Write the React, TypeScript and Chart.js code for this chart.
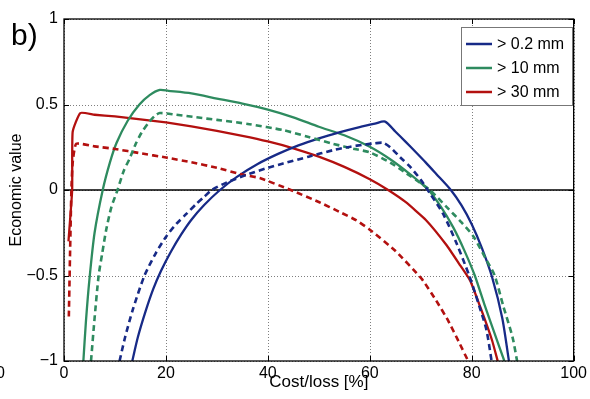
import React, { useEffect, useRef } from 'react';
import { Chart, registerables } from 'chart.js';
Chart.register(...registerables);

const xTicks = [0, 20, 40, 60, 80, 100];
const yTicks = [-1, -0.5, 0, 0.5, 1];
const yTickLabels = ['\u22121', '\u22120.5', '0', '0.5', '1'];
const legendLabels = ['> 0.2 mm', '> 10 mm', '> 30 mm'];
const seriesColors = ['#172a87', '#2e8b5f', '#b3100f'];

// > 0.2 mm
const blueSolidX = [13.4, 14.5, 16, 17.5, 19, 21, 23, 25, 27.5, 30.6, 34, 38, 42, 46, 50, 54, 58, 61, 63, 65, 67, 69, 71, 73, 75.9, 78, 80, 82, 84, 86, 87.3];
const blueSolidY = [-1, -0.86, -0.71, -0.58, -0.475, -0.36, -0.26, -0.174, -0.088, 0, 0.078, 0.152, 0.211, 0.261, 0.302, 0.337, 0.368, 0.388, 0.4, 0.342, 0.283, 0.222, 0.16, 0.095, 0, -0.09, -0.2, -0.34, -0.51, -0.75, -1];
const blueDashX = [10.9, 12, 13.5, 15.8, 18, 20.1, 22, 24, 26, 27.5, 29, 32, 36.4, 40, 43, 48, 52.8, 56, 59, 61, 62.6, 64, 66, 67.9, 70, 71.8, 74.4, 77, 79.5, 81.5, 82.9, 83.9];
const blueDashY = [-1, -0.86, -0.7, -0.5, -0.37, -0.27, -0.2, -0.14, -0.08, -0.04, 0, 0.045, 0.095, 0.13, 0.155, 0.195, 0.233, 0.252, 0.266, 0.273, 0.276, 0.25, 0.19, 0.136, 0.06, -0.02, -0.14, -0.31, -0.5, -0.68, -0.82, -1];

// > 10 mm
const greenSolidX = [3.8, 4.3, 5.0, 6.0, 7.6, 9.0, 10.3, 12.5, 14.8, 16.8, 18.8, 20.5, 25, 30, 35, 40, 45, 50, 55, 60, 64, 68, 71.5, 74, 76.4, 78.5, 80.6, 82.5, 84.5, 86.4];
const greenSolidY = [-1, -0.77, -0.52, -0.25, 0, 0.16, 0.275, 0.405, 0.5, 0.555, 0.585, 0.58, 0.565, 0.535, 0.505, 0.47, 0.425, 0.37, 0.32, 0.253, 0.18, 0.09, 0, -0.1, -0.22, -0.35, -0.5, -0.67, -0.84, -1];
const greenDashX = [5.3, 6.0, 6.8, 7.5, 8.3, 9.3, 10.5, 11.7, 12.9, 14, 15.2, 16.5, 17.8, 18.8, 22, 26, 30, 36.4, 43, 48, 52.8, 57, 60, 64, 67.2, 69.5, 71.8, 75.1, 78, 80.3, 82.9, 84.5, 86.2, 88, 88.9];
const greenDashY = [-1, -0.75, -0.5, -0.37, -0.23, -0.1, 0, 0.11, 0.185, 0.265, 0.335, 0.39, 0.433, 0.45, 0.44, 0.425, 0.41, 0.385, 0.35, 0.31, 0.27, 0.24, 0.22, 0.16, 0.097, 0.05, 0, -0.1, -0.19, -0.27, -0.41, -0.5, -0.68, -0.86, -1];

// > 30 mm
const redSolidX = [0.88, 1.6, 1.7, 3.2, 6, 10, 15, 20, 25, 30, 35, 40, 45, 50, 55, 60, 63.6, 67, 71, 75, 77.5, 79.7, 82, 84, 85.1];
const redSolidY = [-0.3, 0, 0.34, 0.45, 0.44, 0.43, 0.413, 0.395, 0.372, 0.346, 0.317, 0.284, 0.244, 0.195, 0.135, 0.063, 0, -0.07, -0.175, -0.32, -0.43, -0.53, -0.71, -0.88, -1];
const redDashX = [0.95, 1.2, 1.45, 1.7, 2.4, 6, 10, 15, 20, 25, 30, 35, 38.4, 44.5, 50, 54, 57.4, 60, 65, 70.2, 73, 75.4, 77.5, 79.3];
const redDashY = [-0.74, -0.35, 0, 0.16, 0.27, 0.255, 0.24, 0.215, 0.19, 0.162, 0.13, 0.09, 0.07, 0, -0.07, -0.127, -0.178, -0.232, -0.355, -0.52, -0.645, -0.765, -0.89, -1];

const FONT = "'Liberation Sans', Arial, Helvetica, sans-serif";

function pts(xs: number[], ys: number[]) {
  return xs.map((x, i) => ({ x, y: ys[i] }));
}

const decorPlugin = {
  id: 'decor',
  beforeDatasetsDraw(chart: any) {
    const { ctx, chartArea: a, scales } = chart;
    ctx.save();
    // dotted grid
    ctx.strokeStyle = 'rgba(0,0,0,0.5)';
    ctx.lineWidth = 1;
    ctx.setLineDash([1, 2]);
    ctx.beginPath();
    xTicks.forEach((v) => {
      const px = Math.round(scales.x.getPixelForValue(v)) + 0.5;
      ctx.moveTo(px, a.top);
      ctx.lineTo(px, a.bottom);
    });
    yTicks.forEach((v) => {
      const py = Math.round(scales.y.getPixelForValue(v)) + 0.5;
      ctx.moveTo(a.left, py);
      ctx.lineTo(a.right, py);
    });
    ctx.stroke();
    ctx.setLineDash([]);
    // zero line
    const y0 = scales.y.getPixelForValue(0);
    ctx.strokeStyle = '#000';
    ctx.lineWidth = 1.3;
    ctx.beginPath();
    ctx.moveTo(a.left, y0);
    ctx.lineTo(a.right, y0);
    ctx.stroke();
    ctx.restore();
  },
  afterDatasetsDraw(chart: any) {
    const { ctx, chartArea: a, scales } = chart;
    ctx.save();
    ctx.strokeStyle = '#000';
    ctx.lineWidth = 1.3;
    ctx.strokeRect(a.left, a.top, a.right - a.left, a.bottom - a.top);
    const tl = 5;
    ctx.lineWidth = 1;
    ctx.beginPath();
    xTicks.forEach((v) => {
      const px = Math.round(scales.x.getPixelForValue(v)) + 0.5;
      ctx.moveTo(px, a.bottom);
      ctx.lineTo(px, a.bottom - tl);
      ctx.moveTo(px, a.top);
      ctx.lineTo(px, a.top + tl);
    });
    yTicks.forEach((v) => {
      const py = Math.round(scales.y.getPixelForValue(v)) + 0.5;
      ctx.moveTo(a.left, py);
      ctx.lineTo(a.left + tl, py);
      ctx.moveTo(a.right, py);
      ctx.lineTo(a.right - tl, py);
    });
    ctx.stroke();

    // legend
    const lx = 461, ly = 27, lw = 111, lh = 78;
    ctx.fillStyle = '#fff';
    ctx.fillRect(lx, ly, lw, lh);
    ctx.strokeStyle = '#777';
    ctx.lineWidth = 1;
    ctx.strokeRect(lx + 0.5, ly + 0.5, lw, lh);
    const rows = [44, 68, 92];
    ctx.font = `16px ${FONT}`;
    ctx.textBaseline = 'middle';
    ctx.textAlign = 'left';
    legendLabels.forEach((lab, i) => {
      ctx.strokeStyle = seriesColors[i];
      ctx.lineWidth = 2.5;
      ctx.beginPath();
      ctx.moveTo(466, rows[i]);
      ctx.lineTo(492, rows[i]);
      ctx.stroke();
      ctx.fillStyle = '#000';
      ctx.fillText(lab, 497, rows[i] + 1);
    });

    // panel label and cut-off neighbour label
    ctx.font = `30px ${FONT}`;
    ctx.textBaseline = 'alphabetic';
    ctx.fillText('b)', 11, 45);
    ctx.font = `16px ${FONT}`;
    ctx.fillText('0', -4, 378);
    ctx.restore();
  },
};

export default function App() {
  const ref = useRef<HTMLCanvasElement>(null);
  useEffect(() => {
    if (!ref.current) return;
    const mk = (xs: number[], ys: number[], color: string, dashed: boolean, tension: number) => ({
      data: pts(xs, ys),
      borderColor: color,
      backgroundColor: color,
      borderWidth: dashed ? 2.6 : 2.3,
      borderDash: dashed ? [6, 4] : [],
      pointRadius: 0,
      tension,
      fill: false,
    });
    const tickFont = { family: FONT, size: 16 };
    const chart = new Chart(ref.current, {
      type: 'line',
      data: {
        datasets: [
          mk(blueDashX, blueDashY, seriesColors[0], true, 0.25),
          mk(greenDashX, greenDashY, seriesColors[1], true, 0.25),
          mk(redDashX, redDashY, seriesColors[2], true, 0.15),
          mk(blueSolidX, blueSolidY, seriesColors[0], false, 0.25),
          mk(greenSolidX, greenSolidY, seriesColors[1], false, 0.25),
          mk(redSolidX, redSolidY, seriesColors[2], false, 0.15),
        ],
      },
      options: {
        responsive: false,
        animation: false,
        devicePixelRatio: 1,
        layout: { padding: { top: 19, right: 16, left: 0, bottom: 0 } },
        plugins: { legend: { display: false }, tooltip: { enabled: false } },
        scales: {
          x: {
            type: 'linear',
            min: 0,
            max: 100,
            afterBuildTicks: (s: any) => { s.ticks = xTicks.map((v) => ({ value: v })); },
            afterFit: (s: any) => { s.height = 38; },
            ticks: { font: tickFont, color: '#000', padding: 3, maxRotation: 0, callback: (v: any) => String(v) },
            grid: { display: false, drawTicks: false },
            border: { display: false },
            title: { display: true, text: 'Cost/loss [%]', font: { family: FONT, size: 17 }, color: '#000', padding: { top: 0, bottom: 6 } },
          },
          y: {
            type: 'linear',
            min: -1,
            max: 1,
            afterBuildTicks: (s: any) => { s.ticks = yTicks.map((v) => ({ value: v })); },
            afterFit: (s: any) => { s.width = 64; },
            ticks: {
              font: tickFont,
              color: '#000',
              padding: 6,
              callback: (v: any) => yTickLabels[yTicks.indexOf(Number(v))] ?? String(v),
            },
            grid: { display: false, drawTicks: false },
            border: { display: false },
            title: { display: true, text: 'Economic value', font: tickFont, color: '#000', padding: { top: 7, bottom: 0 } },
          },
        },
      },
      plugins: [decorPlugin],
    } as any);
    return () => chart.destroy();
  }, []);
  return (
    <div style={{ position: 'absolute', left: 0, top: 0, width: 590, height: 399, background: '#fff' }}>
      <canvas ref={ref} width={590} height={399} style={{ width: 590, height: 399, display: 'block' }} />
    </div>
  );
}
